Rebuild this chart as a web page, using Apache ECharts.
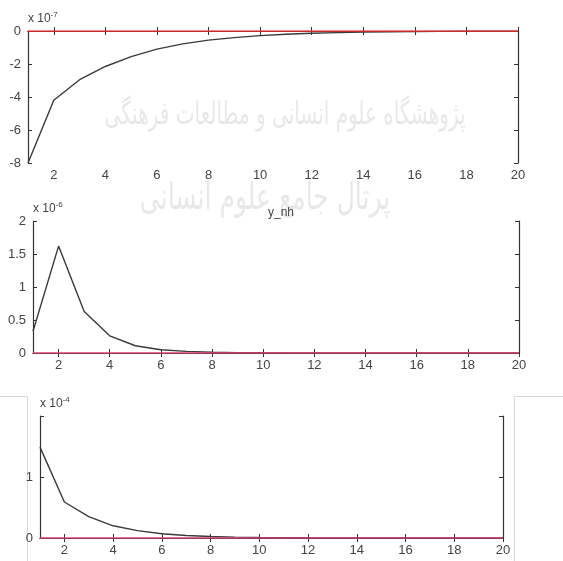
<!DOCTYPE html>
<html>
<head>
<meta charset="utf-8">
<script src="https://cdn.jsdelivr.net/npm/echarts@6/dist/echarts.min.js"></script>
<style>
  html, body { margin: 0; padding: 0; background: #fff; }
  #chart { width: 563px; height: 561px; }
</style>
</head>
<body>
<div id="chart"></div>
<script>
// periods 1..20
var periods = [1, 2, 3, 4, 5, 6, 7, 8, 9, 10, 11, 12, 13, 14, 15, 16, 17, 18, 19, 20];
var xTicks = [2, 4, 6, 8, 10, 12, 14, 16, 18, 20];

// top panel (x 10^-7)
var resp1 = [-8, -4.2, -2.95, -2.15, -1.55, -1.1, -0.78, -0.55, -0.4, -0.28, -0.2, -0.14, -0.1, -0.07, -0.05, -0.035, -0.025, -0.018, -0.012, -0.008];
// y_nh (x 10^-6)
var resp2 = [0.33, 1.62, 0.63, 0.26, 0.11, 0.05, 0.025, 0.012, 0.006, 0.003, 0.002, 0.001, 0.001, 0, 0, 0, 0, 0, 0, 0];
// bottom panel (x 10^-4)
var resp3 = [1.49, 0.59, 0.35, 0.2, 0.12, 0.07, 0.042, 0.025, 0.015, 0.009, 0.005, 0.003, 0.002, 0.001, 0.001, 0, 0, 0, 0, 0];

var scales = ['-7', '-6', '-4'];

var chart = echarts.init(document.getElementById('chart'));

var font = 'Liberation Sans, Arial, sans-serif';
var axisCol = '#333';

function pairs(arr) {
    return periods.map(function (p, i) { return [p, arr[i]]; });
}

function xAxes(gi) {
    return [{
        gridIndex: gi, type: 'value', min: 1, max: 20, position: 'bottom',
        axisLine: { lineStyle: { color: axisCol, width: 1.2 } },
        axisTick: { inside: true, length: 4, customValues: xTicks, lineStyle: { color: axisCol } },
        axisLabel: { customValues: xTicks, color: '#444', fontFamily: font, fontSize: 13, margin: 6 },
        splitLine: { show: false }
    }, {
        gridIndex: gi, type: 'value', min: 1, max: 20, position: 'top',
        axisLine: { lineStyle: { color: axisCol, width: 1.2 } },
        axisTick: { inside: true, length: 4, customValues: xTicks, lineStyle: { color: axisCol } },
        axisLabel: { show: false },
        splitLine: { show: false }
    }];
}

function yAxes(gi, min, max, interval, exp, hideTop) {
    var nm = '{a|x 10}{b|' + exp + '}';
    return [{
        gridIndex: gi, type: 'value', min: min, max: max, interval: interval, position: 'left',
        name: nm, nameLocation: 'end', nameGap: 4,
        nameTextStyle: {
            align: 'left',
            rich: {
                a: { fontFamily: font, fontSize: 12, color: '#444' },
                b: { fontFamily: font, fontSize: 8, color: '#444', padding: [0, 0, 8, 0] }
            }
        },
        axisLine: { lineStyle: { color: axisCol, width: 1.2 } },
        axisTick: { inside: true, length: 4, lineStyle: { color: axisCol } },
        axisLabel: {
            color: '#444', fontFamily: font, fontSize: 13, margin: 7,
            formatter: function (v) { return (hideTop && v === max) ? '' : String(v); }
        },
        splitLine: { show: false }
    }, {
        gridIndex: gi, type: 'value', min: min, max: max, interval: interval, position: 'right',
        axisLine: { lineStyle: { color: axisCol, width: 1.2 } },
        axisTick: { inside: true, length: 4, lineStyle: { color: axisCol } },
        axisLabel: { show: false },
        splitLine: { show: false }
    }];
}

function lineSeries(gi, arr, zeroCol) {
    return [{
        type: 'line', xAxisIndex: gi * 2, yAxisIndex: gi * 2,
        data: pairs(arr), showSymbol: false, symbol: 'none', silent: true,
        lineStyle: { color: '#3a3a3a', width: 1.4 },
        z: 3
    }, {
        type: 'line', xAxisIndex: gi * 2, yAxisIndex: gi * 2,
        data: pairs(periods.map(function () { return 0; })),
        showSymbol: false, symbol: 'none', silent: true,
        lineStyle: { color: zeroCol, width: 1.4 },
        z: 4
    }];
}

var option = {
    animation: false,
    backgroundColor: '#fff',
    title: {
        text: 'y_nh', left: 276, top: 202, textAlign: 'center',
        textStyle: { fontFamily: font, fontSize: 12, fontWeight: 'normal', color: '#444' }
    },
    grid: [
        { left: 28, top: 31, width: 490, height: 132 },
        { left: 33, top: 221, width: 486, height: 132 },
        { left: 40, top: 416, width: 463, height: 122 }
    ],
    xAxis: [].concat(xAxes(0), xAxes(1), xAxes(2)),
    yAxis: [].concat(
        yAxes(0, -8, 0, 2, scales[0], false),
        yAxes(1, 0, 2, 0.5, scales[1], false),
        yAxes(2, 0, 2, 1, scales[2], true)
    ),
    series: [].concat(
        lineSeries(0, resp1, '#f52a2a'),
        lineSeries(1, resp2, '#e0416e'),
        lineSeries(2, resp3, '#e0416e')
    ),
    graphic: [
        // watermark text of the scanned page
        {
            type: 'text', x: 285, y: 100, scaleY: 1.6, silent: true, z: 0,
            style: { text: 'پژوهشگاه علوم انسانی و مطالعات فرهنگی', font: '20px DejaVu Sans', fill: 'rgba(150,150,150,0.22)', align: 'center' }
        },
        {
            type: 'text', x: 265, y: 180, scaleY: 1.5, silent: true, z: 0,
            style: { text: 'پرتال جامع علوم انسانی', font: '25px DejaVu Sans', fill: 'rgba(150,150,150,0.22)', align: 'center' }
        },
        // page border lines around the bottom figure
        { type: 'line', silent: true, shape: { x1: 0, y1: 396.5, x2: 27.5, y2: 396.5 }, style: { stroke: '#d8d8d8', lineWidth: 1 } },
        { type: 'line', silent: true, shape: { x1: 27.5, y1: 396.5, x2: 27.5, y2: 561 }, style: { stroke: '#d8d8d8', lineWidth: 1 } },
        { type: 'line', silent: true, shape: { x1: 514.5, y1: 396.5, x2: 563, y2: 396.5 }, style: { stroke: '#d8d8d8', lineWidth: 1 } },
        { type: 'line', silent: true, shape: { x1: 514.5, y1: 396.5, x2: 514.5, y2: 561 }, style: { stroke: '#d8d8d8', lineWidth: 1 } }
    ]
};

chart.setOption(option);
</script>
</body>
</html>
